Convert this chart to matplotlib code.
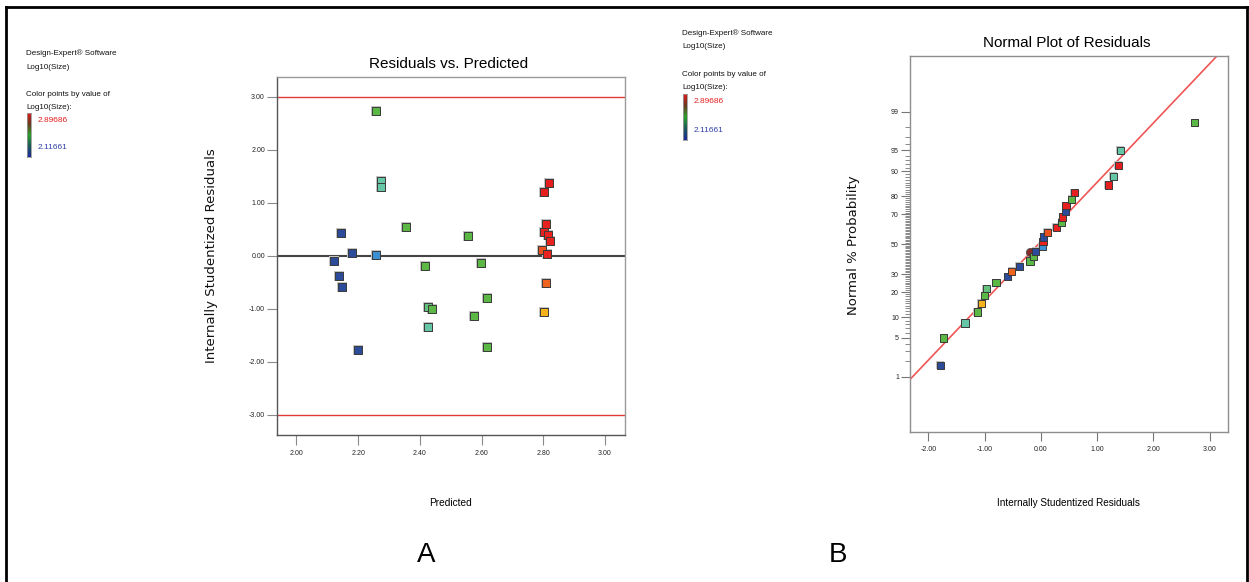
import numpy as np
import matplotlib
matplotlib.use("Agg")
import matplotlib.pyplot as plt
from matplotlib import font_manager
from matplotlib.colors import LinearSegmentedColormap, Normalize
from matplotlib.lines import Line2D
from matplotlib.ticker import FixedLocator, NullFormatter
from statistics import NormalDist

# ---------------- data ----------------
predicted = [2.257, 2.273, 2.273, 2.354, 2.145, 2.180, 2.257, 2.123, 2.138, 2.149,
             2.200, 2.417, 2.555, 2.598, 2.617, 2.577, 2.617, 2.427, 2.438, 2.427,
             2.819, 2.803, 2.810, 2.803, 2.816, 2.821, 2.797, 2.813, 2.810, 2.803]
residuals = [2.735, 1.41, 1.29, 0.545, 0.44, 0.05, 0.025, -0.09, -0.385, -0.59,
             -1.785, -0.195, 0.372, -0.13, -0.797, -1.133, -1.725, -0.968, -1.002, -1.347,
             1.375, 1.20, 0.593, 0.446, 0.385, 0.272, 0.115, 0.037, -0.52, -1.057]
log_size = [2.47, 2.32, 2.32, 2.40, 2.17, 2.19, 2.257, 2.14, 2.15, 2.16,
            2.12, 2.42, 2.58, 2.59, 2.56, 2.50, 2.45, 2.35, 2.39, 2.32,
            2.897, 2.88, 2.86, 2.86, 2.85, 2.85, 2.80, 2.84, 2.77, 2.72]
normal_prob = [1.67, 5.0, 8.33, 11.67, 15.0, 18.33, 21.67, 25.0, 28.33, 31.67,
               35.0, 38.33, 41.67, 45.0, 48.33, 51.67, 55.0, 58.33, 61.67, 65.0,
               68.33, 71.67, 75.0, 78.33, 81.67, 85.0, 88.33, 91.67, 95.0, 98.33]
highlight_resid = [-0.20]
highlight_prob = [44.4]
size_min, size_max = 2.11661, 2.89686
limit_lines = [3.0, -3.0]
fit_slope, fit_intercept = 1.04, 0.046   # normal-plot line in z units

x_ticks_a = [2.00, 2.20, 2.40, 2.60, 2.80, 3.00]
y_ticks_a = [3.00, 2.00, 1.00, 0.00, -1.00, -2.00, -3.00]
x_ticks_b = [-2.00, -1.00, 0.00, 1.00, 2.00, 3.00]
prob_major = [1, 5, 10, 20, 30, 50, 70, 80, 90, 95, 99]

# ---------------- fonts ----------------
names = {f.name for f in font_manager.fontManager.ttflist}
NARROW = "Liberation Sans Narrow" if "Liberation Sans Narrow" in names else "Liberation Sans"
REG = "Liberation Sans"

W, H = 1249, 582
fig = plt.figure(figsize=(W / 100, H / 100), dpi=100)
fig.patch.set_facecolor("white")


def P(x, y):
    return x / W, 1 - y / H


# point colormap
pt_anchor = [(2.11661, "#2d4b9b"), (2.20, "#2d4b9b"), (2.257, "#3b8fd3"),
             (2.32, "#66c8a5"), (2.39, "#5cb845"), (2.62, "#5cb845"),
             (2.72, "#f7b21c"), (2.77, "#f0641f"), (2.81, "#ec4a1e"),
             (2.84, "#e8231f"), (2.89686, "#e41e1e")]
pt_cmap = LinearSegmentedColormap.from_list(
    "pts", [((v - size_min) / (size_max - size_min), c) for v, c in pt_anchor])
norm = Normalize(size_min, size_max)
colors = [pt_cmap(norm(v)) for v in log_size]

bar_cmap = LinearSegmentedColormap.from_list(
    "bar", [(0, "#1c2a98"), (0.25, "#1d5a5a"), (0.5, "#2aa02a"), (0.75, "#6a3a20"), (1, "#e01818")])

# ---------------- outer frame ----------------
fig.add_artist(Line2D([6 / W, 6 / W], [0, 1 - 7 / H], color="black", lw=2.0))
fig.add_artist(Line2D([6 / W, 1247 / W], [1 - 7 / H, 1 - 7 / H], color="black", lw=2.0))
fig.add_artist(Line2D([1247 / W, 1247 / W], [1 - 7 / H, 0], color="black", lw=2.0))


# ---------------- legends ----------------
def legend(x0, ys, bar_box, vy):
    lines = ["Design-Expert\u00ae Software", "Log10(Size)", "Color points by value of", "Log10(Size):"]
    for t, y in zip(lines, ys):
        fig.text(*P(x0, y), t, family=NARROW, fontsize=5.8, va="center", ha="left", color="#111")
    bx, by, bw, bh = bar_box
    cax = fig.add_axes([bx / W, 1 - (by + bh) / H, bw / W, bh / H])
    grad = np.linspace(0, 1, 100).reshape(-1, 1)
    cax.imshow(grad, cmap=bar_cmap, aspect="auto", origin="lower")
    cax.set_xticks([]); cax.set_yticks([])
    for s in cax.spines.values():
        s.set_color("#999999"); s.set_linewidth(0.6)
    fig.text(*P(bx + bw + 6, vy[0]), f"{size_max:.5f}", family=NARROW, fontsize=6.0,
             color="#e02020", va="center", ha="left")
    fig.text(*P(bx + bw + 6, vy[1]), f"{size_min:.5f}", family=NARROW, fontsize=6.0,
             color="#3040a8", va="center", ha="left")


legend(26, [53.3, 67.3, 94.3, 107.3], (27.3, 113, 4, 44), (120.5, 147.3))
legend(682, [32.7, 46.7, 74, 87.7], (683.3, 94, 4, 46), (101.7, 130))

# ---------------- panel A ----------------
axA = fig.add_axes([276.7 / W, 1 - 435 / H, (625 - 276.7) / W, (435 - 76.7) / H])
axA.set_xlim(1.936, 3.065)
axA.set_ylim(-3.38, 3.38)
for v in limit_lines:
    axA.axhline(v, color="#e23a3a", lw=1.0, zorder=1)
axA.axhline(0, color="#444444", lw=1.5, zorder=1)
axA.scatter(predicted, residuals, s=48, marker="s", color="#c4c4c4", lw=0, zorder=2)
axA.scatter(predicted, residuals, s=33, marker="s", c=colors, edgecolors="#3a3a3a",
            linewidths=0.7, zorder=3)
axA.set_xticks(x_ticks_a)
axA.set_xticklabels([f"{v:.2f}" for v in x_ticks_a])
axA.set_yticks(y_ticks_a)
axA.set_yticklabels([f"{v:.2f}" for v in y_ticks_a])
axA.tick_params(length=7, width=0.8, color="#8a8a8a", labelsize=5, labelcolor="#222", pad=1.5)
axA.tick_params(axis="x", pad=3.5)
for lab in axA.get_xticklabels() + axA.get_yticklabels():
    lab.set_family(NARROW)
axA.spines["left"].set_color("#555555")
axA.spines["bottom"].set_color("#555555")
axA.spines["top"].set_color("#9a9a9a")
axA.spines["right"].set_color("#9a9a9a")
for s in axA.spines.values():
    s.set_linewidth(1.0)

fig.text(*P(449, 64), "Residuals vs. Predicted", family=NARROW, fontsize=11, ha="center", va="center")
fig.text(*P(211.7, 256), "Internally Studentized Residuals", family="DejaVu Sans", fontsize=9.5,
         rotation=90, ha="center", va="center", color="#111")
fig.text(*P(450, 503.3), "Predicted", family=NARROW, fontsize=7.3, ha="center", va="center")

# ---------------- panel B ----------------
nd = NormalDist()
fwd = np.vectorize(lambda p: nd.inv_cdf(p / 100.0) if 0 < p < 100 else np.nan, otypes=[float])
inv = np.vectorize(lambda z: nd.cdf(z) * 100.0 if np.isfinite(z) else (100.0 if z > 0 else 0.0),
                   otypes=[float])

axB = fig.add_axes([910 / W, 1 - 432.3 / H, (1227.7 - 910) / W, (432.3 - 56.3) / H])
axB.set_yscale("function", functions=(fwd, inv))
axB.set_xlim(-2.326, 3.32)
axB.set_ylim(nd.cdf(-3.30) * 100, nd.cdf(3.295) * 100)

xl = np.linspace(-2.5, 3.5, 200)
axB.plot(xl, inv(fit_slope * xl + fit_intercept), color="#f05555", lw=1.2, zorder=1)

order = np.argsort(residuals)
xs_sorted = np.array(residuals)[order]
cols_sorted = [colors[i] for i in order]
axB.scatter(xs_sorted, normal_prob, s=38, marker="s", color="#c4c4c4", lw=0, zorder=2)
axB.scatter(xs_sorted, normal_prob, s=27, marker="s", c=cols_sorted, edgecolors="#3a3a3a",
            linewidths=0.7, zorder=3)
axB.scatter(highlight_resid, highlight_prob, s=34, marker="o", color="#8a2a2a",
            edgecolors="#555555", linewidths=0.7, zorder=2.5)

axB.set_xticks(x_ticks_b)
axB.set_xticklabels([f"{v:.2f}" for v in x_ticks_b])
axB.yaxis.set_major_locator(FixedLocator(prob_major))
axB.set_yticklabels([str(v) for v in prob_major])
axB.yaxis.set_minor_locator(FixedLocator([p for p in range(1, 100) if p not in prob_major]))
axB.yaxis.set_minor_formatter(NullFormatter())
axB.tick_params(axis="both", which="major", length=6.5, width=0.8, color="#777777",
                labelsize=5, labelcolor="#222", pad=1.5)
axB.tick_params(axis="x", pad=3.5)
axB.tick_params(axis="y", which="minor", length=3.6, width=0.6, color="#777777")
for lab in axB.get_xticklabels() + axB.get_yticklabels():
    lab.set_family(NARROW)
for s in axB.spines.values():
    s.set_color("#8e8e8e"); s.set_linewidth(1.0)

fig.text(*P(1067, 42.7), "Normal Plot of Residuals", family=NARROW, fontsize=11, ha="center", va="center")
fig.text(*P(853, 245), "Normal % Probability", family="DejaVu Sans", fontsize=9.5,
         rotation=90, ha="center", va="center", color="#111")
fig.text(*P(1068, 503.3), "Internally Studentized Residuals", family=NARROW, fontsize=7.2,
         ha="center", va="center")

# panel letters
fig.text(*P(425.7, 555), "A", family=REG, fontsize=20, ha="center", va="center")
fig.text(*P(838.3, 555), "B", family=REG, fontsize=20, ha="center", va="center")

fig.savefig("out.png", dpi=100, facecolor="white")
